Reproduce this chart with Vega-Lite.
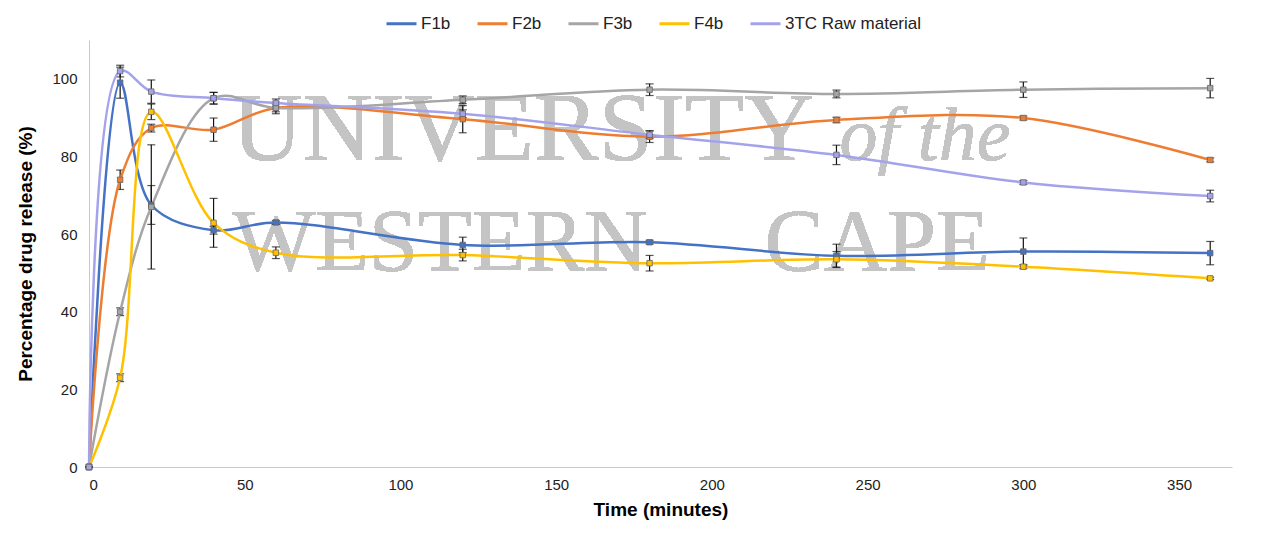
{
  "$schema": "https://vega.github.io/schema/vega-lite/v6.json",
  "width": 1143,
  "height": 427,
  "autosize": "none",
  "padding": {"left": 89, "top": 40, "right": 33, "bottom": 69},
  "background": "white",
  "config": {
    "font": "Liberation Sans",
    "view": {"stroke": null},
    "axis": {"grid": false, "domainColor": "#c8c8c8", "tickColor": "#c8c8c8", "labelColor": "#222", "labelFontSize": 15, "titleFontSize": 19, "titleFontWeight": "bold", "titleColor": "#000"}
  },
  "data": {
    "values": [
      {"t": 0, "s": "F1b", "v": 0, "e": 0},
      {"t": 10, "s": "F1b", "v": 99, "e": 4},
      {"t": 20, "s": "F1b", "v": 67.5, "e": 5},
      {"t": 40, "s": "F1b", "v": 61, "e": 1},
      {"t": 60, "s": "F1b", "v": 63, "e": 0.5},
      {"t": 120, "s": "F1b", "v": 57.2, "e": 2},
      {"t": 180, "s": "F1b", "v": 57.9, "e": 0.5},
      {"t": 240, "s": "F1b", "v": 54.4, "e": 3},
      {"t": 300, "s": "F1b", "v": 55.5, "e": 3.5},
      {"t": 360, "s": "F1b", "v": 55.1, "e": 3},
      {"t": 0, "s": "F2b", "v": 0, "e": 0},
      {"t": 10, "s": "F2b", "v": 74, "e": 2.5},
      {"t": 20, "s": "F2b", "v": 87.3, "e": 1},
      {"t": 40, "s": "F2b", "v": 86.9, "e": 3},
      {"t": 60, "s": "F2b", "v": 92.5, "e": 1},
      {"t": 120, "s": "F2b", "v": 89.6, "e": 3.5},
      {"t": 180, "s": "F2b", "v": 85.1, "e": 1.5},
      {"t": 240, "s": "F2b", "v": 89.4, "e": 0.7},
      {"t": 300, "s": "F2b", "v": 89.9, "e": 0.5},
      {"t": 360, "s": "F2b", "v": 79.1, "e": 0.5},
      {"t": 0, "s": "F3b", "v": 0, "e": 0},
      {"t": 10, "s": "F3b", "v": 40, "e": 1},
      {"t": 20, "s": "F3b", "v": 67, "e": 16},
      {"t": 40, "s": "F3b", "v": 95, "e": 1.5},
      {"t": 60, "s": "F3b", "v": 92.5, "e": 1.5},
      {"t": 120, "s": "F3b", "v": 94.6, "e": 1},
      {"t": 180, "s": "F3b", "v": 97.2, "e": 1.5},
      {"t": 240, "s": "F3b", "v": 96.1, "e": 1},
      {"t": 300, "s": "F3b", "v": 97.2, "e": 2},
      {"t": 360, "s": "F3b", "v": 97.6, "e": 2.5},
      {"t": 0, "s": "F4b", "v": 0, "e": 0},
      {"t": 10, "s": "F4b", "v": 23, "e": 1},
      {"t": 20, "s": "F4b", "v": 91.5, "e": 2},
      {"t": 40, "s": "F4b", "v": 62.9, "e": 6.3},
      {"t": 60, "s": "F4b", "v": 55.2, "e": 1.5},
      {"t": 120, "s": "F4b", "v": 54.6, "e": 1.5},
      {"t": 180, "s": "F4b", "v": 52.5, "e": 2},
      {"t": 240, "s": "F4b", "v": 53.5, "e": 2},
      {"t": 300, "s": "F4b", "v": 51.6, "e": 0.5},
      {"t": 360, "s": "F4b", "v": 48.6, "e": 0.3},
      {"t": 0, "s": "3TC Raw material", "v": 0, "e": 0},
      {"t": 10, "s": "3TC Raw material", "v": 102, "e": 1.5},
      {"t": 20, "s": "3TC Raw material", "v": 96.7, "e": 3},
      {"t": 40, "s": "3TC Raw material", "v": 95, "e": 1.5},
      {"t": 60, "s": "3TC Raw material", "v": 93.8, "e": 1},
      {"t": 120, "s": "3TC Raw material", "v": 91, "e": 1},
      {"t": 180, "s": "3TC Raw material", "v": 85.6, "e": 1},
      {"t": 240, "s": "3TC Raw material", "v": 80.4, "e": 2.5},
      {"t": 300, "s": "3TC Raw material", "v": 73.3, "e": 0.5},
      {"t": 360, "s": "3TC Raw material", "v": 69.8, "e": 1.5}
    ]
  },
  "encoding": {
    "x": {"field": "t", "type": "quantitative", "scale": {"domain": [0, 367], "nice": false}, "axis": {"values": [0, 50, 100, 150, 200, 250, 300, 350], "title": "Time (minutes)", "ticks": false, "labelPadding": 10, "titlePadding": 8}},
    "y": {"field": "v", "type": "quantitative", "scale": {"domain": [0, 110], "nice": false}, "axis": {"values": [0, 20, 40, 60, 80, 100], "title": "Percentage drug release (%)", "ticks": false, "labelPadding": 12, "titlePadding": 16}}
  },
  "layer": [
    {
      "mark": {"type": "text", "font": "Liberation Serif", "fontSize": 97, "align": "left", "baseline": "alphabetic", "color": "#c4c4c4", "opacity": 0.7},
      "encoding": {"x": {"datum": 46}, "y": {"datum": 79}, "text": {"value": "UNIVERSITY"}}
    },
    {
      "mark": {"type": "text", "font": "Liberation Serif", "fontStyle": "italic", "fontSize": 76, "align": "left", "baseline": "alphabetic", "color": "#c4c4c4", "opacity": 0.7},
      "encoding": {"x": {"datum": 241}, "y": {"datum": 79}, "text": {"value": "of the"}}
    },
    {
      "mark": {"type": "text", "font": "Liberation Serif", "fontSize": 88, "align": "left", "baseline": "alphabetic", "color": "#c4c4c4", "opacity": 0.7},
      "encoding": {"x": {"datum": 46}, "y": {"datum": 50.8}, "text": {"value": "WESTERN"}}
    },
    {
      "mark": {"type": "text", "font": "Liberation Serif", "fontSize": 88, "align": "left", "baseline": "alphabetic", "color": "#c4c4c4", "opacity": 0.7},
      "encoding": {"x": {"datum": 217}, "y": {"datum": 50.8}, "text": {"value": "CAPE"}}
    },
    {
      "mark": {"type": "errorbar", "ticks": {"size": 8, "color": "#111"}, "color": "#111", "thickness": 1.2},
      "encoding": {
        "y": {"field": "v", "type": "quantitative", "title": "Percentage drug release (%)"},
        "yError": {"field": "e"},
        "detail": {"field": "s"}
      }
    },
    {
      "mark": {"type": "line", "interpolate": "catmull-rom", "strokeWidth": 2.5},
      "encoding": {
        "color": {"field": "s", "type": "nominal", "scale": {"domain": ["F1b", "F2b", "F3b", "F4b", "3TC Raw material"], "range": ["#4472C4", "#ED7D31", "#A5A5A5", "#FFC000", "#A3A3EC"]}, "legend": {"title": null, "orient": "none", "legendX": 296, "legendY": -33, "direction": "horizontal", "symbolType": "stroke", "symbolStrokeWidth": 3, "symbolSize": 900, "labelFontSize": 17, "labelColor": "#222", "columnPadding": 20, "labelOffset": 3}}
      }
    },
    {
      "mark": {"type": "point", "shape": "square", "filled": true, "size": 30, "stroke": "#666", "strokeWidth": 0.8, "opacity": 1},
      "encoding": {
        "color": {"field": "s", "type": "nominal", "legend": null}
      }
    }
  ]
}
